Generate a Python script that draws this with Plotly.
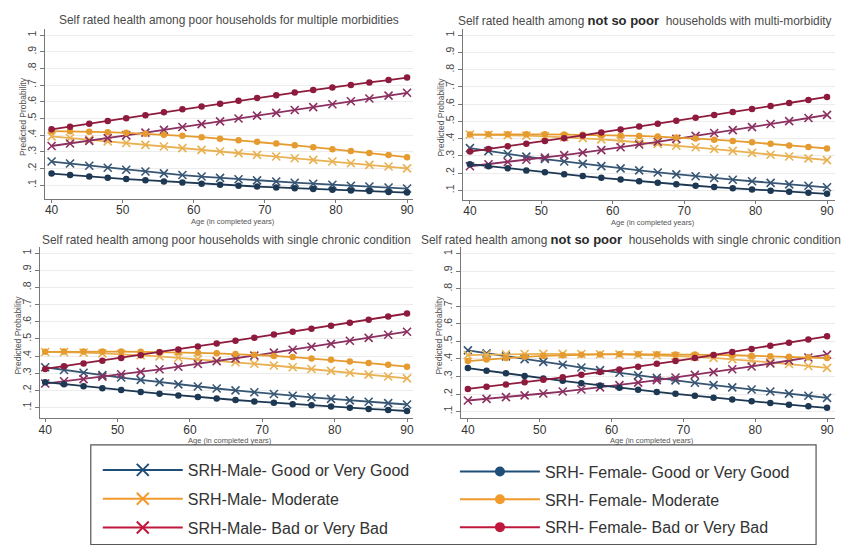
import plotly.graph_objects as go

W, H = 847, 545

# ---------------- data ----------------
AGES = [40.0, 42.6, 45.3, 47.9, 50.5, 53.2, 55.8, 58.4, 61.1, 63.7,
        66.3, 68.9, 71.6, 74.2, 76.8, 79.5, 82.1, 84.7, 87.4, 90.0]

SERIES_NAMES = ["SRH-Male- Good or Very Good", "SRH-Male- Moderate", "SRH-Male- Bad or Very Bad",
                "SRH- Female- Good or Very Good", "SRH- Female- Moderate", "SRH- Female- Bad or Very Bad"]

# Panel 1: poor households, multiple morbidities
POOR_MULTI_MALE_GOOD = [0.242, 0.230, 0.217, 0.205, 0.193, 0.182, 0.171, 0.161, 0.152, 0.144,
                        0.136, 0.129, 0.122, 0.115, 0.109, 0.103, 0.097, 0.092, 0.086, 0.080]
POOR_MULTI_MALE_MOD = [0.393, 0.383, 0.373, 0.363, 0.353, 0.342, 0.332, 0.322, 0.312, 0.302,
                       0.292, 0.282, 0.272, 0.262, 0.252, 0.242, 0.232, 0.222, 0.212, 0.201]
POOR_MULTI_MALE_BAD = [0.335, 0.350, 0.366, 0.382, 0.399, 0.415, 0.432, 0.449, 0.466, 0.483,
                       0.500, 0.517, 0.534, 0.551, 0.568, 0.585, 0.603, 0.620, 0.637, 0.654]
POOR_MULTI_FEMALE_GOOD = [0.170, 0.161, 0.153, 0.145, 0.137, 0.130, 0.123, 0.116, 0.109, 0.103,
                          0.097, 0.092, 0.087, 0.082, 0.078, 0.073, 0.069, 0.065, 0.060, 0.056]
POOR_MULTI_FEMALE_MOD = [0.424, 0.423, 0.421, 0.418, 0.414, 0.409, 0.403, 0.396, 0.388, 0.379,
                         0.370, 0.360, 0.350, 0.339, 0.328, 0.316, 0.305, 0.293, 0.281, 0.268]
POOR_MULTI_FEMALE_BAD = [0.435, 0.450, 0.468, 0.485, 0.502, 0.520, 0.537, 0.555, 0.572, 0.589,
                         0.606, 0.623, 0.639, 0.655, 0.671, 0.686, 0.701, 0.716, 0.730, 0.745]

# Panel 2: not so poor households, multi-morbidity
NSP_MULTI_MALE_GOOD = [0.345, 0.328, 0.311, 0.296, 0.282, 0.268, 0.254, 0.241, 0.228, 0.216,
                       0.204, 0.193, 0.182, 0.172, 0.162, 0.153, 0.144, 0.135, 0.127, 0.118]
NSP_MULTI_MALE_MOD = [0.424, 0.423, 0.421, 0.418, 0.414, 0.409, 0.403, 0.396, 0.388, 0.379,
                      0.370, 0.360, 0.350, 0.340, 0.329, 0.318, 0.307, 0.297, 0.286, 0.276]
NSP_MULTI_MALE_BAD = [0.240, 0.252, 0.265, 0.278, 0.291, 0.305, 0.319, 0.334, 0.350, 0.366,
                      0.382, 0.399, 0.416, 0.433, 0.450, 0.467, 0.485, 0.502, 0.520, 0.538]
NSP_MULTI_FEMALE_GOOD = [0.252, 0.240, 0.228, 0.216, 0.205, 0.194, 0.183, 0.173, 0.163, 0.153,
                         0.144, 0.135, 0.127, 0.119, 0.112, 0.105, 0.098, 0.092, 0.086, 0.080]
NSP_MULTI_FEMALE_MOD = [0.424, 0.425, 0.425, 0.425, 0.425, 0.424, 0.423, 0.421, 0.419, 0.416,
                        0.412, 0.407, 0.401, 0.394, 0.387, 0.379, 0.370, 0.361, 0.352, 0.343]
NSP_MULTI_FEMALE_BAD = [0.325, 0.340, 0.356, 0.371, 0.387, 0.403, 0.419, 0.436, 0.453, 0.470,
                        0.487, 0.504, 0.521, 0.538, 0.555, 0.572, 0.589, 0.607, 0.624, 0.642]

# Panel 3: poor households, single chronic condition
POOR_SINGLE_MALE_GOOD = [0.335, 0.319, 0.303, 0.289, 0.275, 0.261, 0.248, 0.235, 0.223, 0.211,
                         0.200, 0.189, 0.179, 0.169, 0.160, 0.151, 0.142, 0.134, 0.126, 0.118]
POOR_SINGLE_MALE_MOD = [0.424, 0.423, 0.420, 0.416, 0.411, 0.405, 0.398, 0.390, 0.382, 0.373,
                        0.364, 0.355, 0.345, 0.335, 0.325, 0.314, 0.303, 0.292, 0.281, 0.270]
POOR_SINGLE_MALE_BAD = [0.240, 0.253, 0.266, 0.280, 0.294, 0.308, 0.323, 0.338, 0.354, 0.370,
                        0.386, 0.403, 0.420, 0.437, 0.454, 0.471, 0.489, 0.506, 0.524, 0.542]
POOR_SINGLE_FEMALE_GOOD = [0.248, 0.236, 0.224, 0.213, 0.202, 0.191, 0.181, 0.171, 0.162, 0.153,
                           0.144, 0.136, 0.128, 0.120, 0.113, 0.106, 0.099, 0.092, 0.086, 0.080]
POOR_SINGLE_FEMALE_MOD = [0.425, 0.426, 0.426, 0.426, 0.426, 0.425, 0.424, 0.422, 0.419, 0.416,
                          0.412, 0.407, 0.401, 0.394, 0.386, 0.378, 0.369, 0.359, 0.349, 0.338]
POOR_SINGLE_FEMALE_BAD = [0.325, 0.341, 0.357, 0.373, 0.389, 0.405, 0.422, 0.439, 0.456, 0.473,
                          0.490, 0.507, 0.525, 0.542, 0.559, 0.577, 0.594, 0.612, 0.630, 0.648]

# Panel 4: not so poor households, single chronic condition
NSP_SINGLE_MALE_GOOD = [0.449, 0.432, 0.415, 0.399, 0.383, 0.367, 0.351, 0.336, 0.321, 0.306,
                        0.292, 0.278, 0.264, 0.251, 0.238, 0.226, 0.214, 0.202, 0.190, 0.178]
NSP_SINGLE_MALE_MOD = [0.422, 0.425, 0.427, 0.428, 0.429, 0.429, 0.428, 0.427, 0.426, 0.424,
                       0.421, 0.417, 0.412, 0.406, 0.399, 0.390, 0.381, 0.371, 0.360, 0.349]
NSP_SINGLE_MALE_BAD = [0.163, 0.172, 0.182, 0.192, 0.203, 0.214, 0.226, 0.238, 0.251, 0.265,
                       0.279, 0.294, 0.309, 0.325, 0.341, 0.357, 0.374, 0.391, 0.408, 0.425]
NSP_SINGLE_FEMALE_GOOD = [0.348, 0.333, 0.318, 0.303, 0.289, 0.275, 0.262, 0.249, 0.236, 0.224,
                          0.212, 0.201, 0.190, 0.179, 0.169, 0.159, 0.149, 0.139, 0.130, 0.121]
NSP_SINGLE_FEMALE_MOD = [0.388, 0.397, 0.405, 0.412, 0.417, 0.421, 0.424, 0.426, 0.427, 0.427,
                         0.427, 0.426, 0.425, 0.423, 0.421, 0.418, 0.415, 0.412, 0.409, 0.405]
NSP_SINGLE_FEMALE_BAD = [0.229, 0.241, 0.254, 0.267, 0.281, 0.295, 0.310, 0.325, 0.340, 0.356,
                         0.372, 0.388, 0.405, 0.422, 0.439, 0.457, 0.475, 0.493, 0.511, 0.529]

X_TICKS = [40, 50, 60, 70, 80, 90]
Y_TICKS = [0.1, 0.2, 0.3, 0.4, 0.5, 0.6, 0.7, 0.8, 0.9, 1.0]
Y_TICK_LABELS = [".1", ".2", ".3", ".4", ".5", ".6", ".7", ".8", ".9", "1"]

NSP = ("<span style='font-size:13px;color:#2a2a2a'><b>not so poor</b></span>")
TITLE_1 = "Self rated health among poor households for multiple morbidities"
TITLE_2 = "Self rated health among " + NSP + "  households with multi-morbidity"
TITLE_3 = "Self rated health among poor households with single chronic condition"
TITLE_4 = "Self rated health among " + NSP + "  households with single chronic condition"
X_TITLE = "Age (in completed years)"
Y_TITLE = "Predicted Probability"

PANELS = [
    [POOR_MULTI_MALE_GOOD, POOR_MULTI_MALE_MOD, POOR_MULTI_MALE_BAD,
     POOR_MULTI_FEMALE_GOOD, POOR_MULTI_FEMALE_MOD, POOR_MULTI_FEMALE_BAD],
    [NSP_MULTI_MALE_GOOD, NSP_MULTI_MALE_MOD, NSP_MULTI_MALE_BAD,
     NSP_MULTI_FEMALE_GOOD, NSP_MULTI_FEMALE_MOD, NSP_MULTI_FEMALE_BAD],
    [POOR_SINGLE_MALE_GOOD, POOR_SINGLE_MALE_MOD, POOR_SINGLE_MALE_BAD,
     POOR_SINGLE_FEMALE_GOOD, POOR_SINGLE_FEMALE_MOD, POOR_SINGLE_FEMALE_BAD],
    [NSP_SINGLE_MALE_GOOD, NSP_SINGLE_MALE_MOD, NSP_SINGLE_MALE_BAD,
     NSP_SINGLE_FEMALE_GOOD, NSP_SINGLE_FEMALE_MOD, NSP_SINGLE_FEMALE_BAD],
]

# ---------------- styles ----------------
PLOT_COLORS = ["#375674", "#e9b152", "#8b3060", "#1d3853", "#e59b2f", "#8e1b3d"]
LEGEND_COLORS = ["#1f4e79", "#f39a2c", "#c0183d", "#1f4e79", "#f39a2c", "#c0183d"]
IS_MALE = [True, True, True, False, False, False]

# panel geometry in pixels: (x0, x1), (ytop, ybottom), and axis ranges
GEOM = [
    dict(px=(44, 413), py=(30, 203), xr=(39.06, 90.84), yr=(0.018, 1.034)),
    dict(px=(463, 836), py=(30, 204), xr=(39.02, 91.12), yr=(0.045, 1.034)),
    dict(px=(39, 413), py=(252, 427), xr=(39.27, 90.83), yr=(0.037, 1.036)),
    dict(px=(461, 836), py=(252, 427), xr=(39.03, 91.11), yr=(0.061, 1.039)),
]

FONT = "Liberation Sans, Arial, sans-serif"

fig = go.Figure()

for p, series in enumerate(PANELS):
    xa = "x" if p == 0 else f"x{p+1}"
    ya = "y" if p == 0 else f"y{p+1}"
    for s, vals in enumerate(series):
        male = IS_MALE[s]
        marker = (dict(symbol="x-thin", size=8, color=PLOT_COLORS[s],
                       line=dict(width=1.6, color=PLOT_COLORS[s]))
                  if male else dict(symbol="circle", size=6.5, color=PLOT_COLORS[s]))
        fig.add_trace(go.Scatter(
            x=AGES, y=vals, mode="lines+markers", xaxis=xa, yaxis=ya,
            line=dict(color=PLOT_COLORS[s], width=1.8), marker=marker,
            showlegend=False, name=SERIES_NAMES[s], hoverinfo="skip"))

# legend entries (two columns, like the reference)
for s, name in enumerate(SERIES_NAMES):
    male = IS_MALE[s]
    marker = (dict(symbol="x-thin", size=12, color=LEGEND_COLORS[s],
                   line=dict(width=2, color=LEGEND_COLORS[s]))
              if male else dict(symbol="circle", size=10, color=LEGEND_COLORS[s]))
    fig.add_trace(go.Scatter(
        x=[None], y=[None], mode="lines+markers", name=name,
        line=dict(color=LEGEND_COLORS[s], width=2), marker=marker,
        legend="legend" if male else "legend2", legendgroup=f"g{s}",
        showlegend=True, xaxis="x", yaxis="y"))

layout = dict(
    width=W, height=H, margin=dict(l=0, r=0, t=0, b=0),
    paper_bgcolor="white", plot_bgcolor="white",
    font=dict(family=FONT, color="#444"),
    showlegend=True,
)

annotations = []
for p, g in enumerate(GEOM):
    sfx = "" if p == 0 else str(p + 1)
    x0, x1 = g["px"]
    yt, yb = g["py"]
    layout["xaxis" + sfx] = dict(
        domain=[x0 / W, x1 / W], range=list(g["xr"]), anchor="y" + sfx,
        tickvals=X_TICKS, ticks="outside", ticklen=3, tickcolor="#777",
        ticklabelstandoff=-3,
        showline=True, linecolor="#777", linewidth=1, showgrid=False, zeroline=False,
        tickfont=dict(size=12, color="#333", family=FONT), fixedrange=True)
    layout["yaxis" + sfx] = dict(
        domain=[1 - yb / H, 1 - yt / H], range=list(g["yr"]), anchor="x" + sfx,
        tickvals=Y_TICKS, ticktext=Y_TICK_LABELS, tickangle=-90,
        ticks="outside", ticklen=4, tickcolor="#777",
        showline=True, linecolor="#777", linewidth=1,
        showgrid=True, gridcolor="#ececec", gridwidth=1, zeroline=False,
        tickfont=dict(size=10.5, color="#444", family=FONT), fixedrange=True)
    # x axis title
    annotations.append(dict(text=X_TITLE, xref="paper", yref="paper",
                            x=((x0 + x1) / 2 + 4) / W, y=1 - (yb + 23) / H,
                            showarrow=False, font=dict(size=7.5, color="#555", family=FONT),
                            xanchor="center", yanchor="middle"))
    # y axis title
    annotations.append(dict(text=Y_TITLE, xref="paper", yref="paper",
                            x=(x0 - 22) / W, y=1 - ((yt + yb) / 2 + 2) / H, textangle=-90,
                            showarrow=False, font=dict(size=8.5, color="#555", family=FONT),
                            xanchor="center", yanchor="middle"))

TITLE_FONT = dict(size=11.9, color="#4a4a4a", family=FONT)
annotations += [
    dict(text=TITLE_1, x=228.5 / W, y=1 - 20.5 / H, xanchor="center"),
    dict(text=TITLE_2, x=456 / W, y=1 - 21 / H, xanchor="left"),
    dict(text=TITLE_3, x=226 / W, y=1 - 245 / H, xanchor="center"),
    dict(text=TITLE_4, x=419 / W, y=1 - 244 / H, xanchor="left"),
]
for a in annotations[-4:]:
    a.update(xref="paper", yref="paper", showarrow=False, yanchor="middle", font=TITLE_FONT)

layout["annotations"] = annotations

# legend frame
layout["shapes"] = [dict(type="rect", xref="paper", yref="paper",
                         x0=90 / W, x1=817 / W, y0=-0.02, y1=1 - 454 / H,
                         line=dict(color="#555", width=1.2), fillcolor="rgba(0,0,0,0)")]

LEG = dict(bgcolor="rgba(0,0,0,0)", borderwidth=0, orientation="v",
           font=dict(size=16, color="#333", family=FONT), itemwidth=80,
           xanchor="left", yanchor="top", itemclick=False, itemdoubleclick=False)
layout["legend"] = dict(LEG, x=97 / W, y=1 - 462.5 / H, tracegroupgap=5)
layout["legend2"] = dict(LEG, x=455 / W, y=1 - 464 / H, tracegroupgap=4)

fig.update_layout(**layout)
fig.write_html("out.html", config={"displayModeBar": False},
               post_script="document.body.style.margin='0';")
